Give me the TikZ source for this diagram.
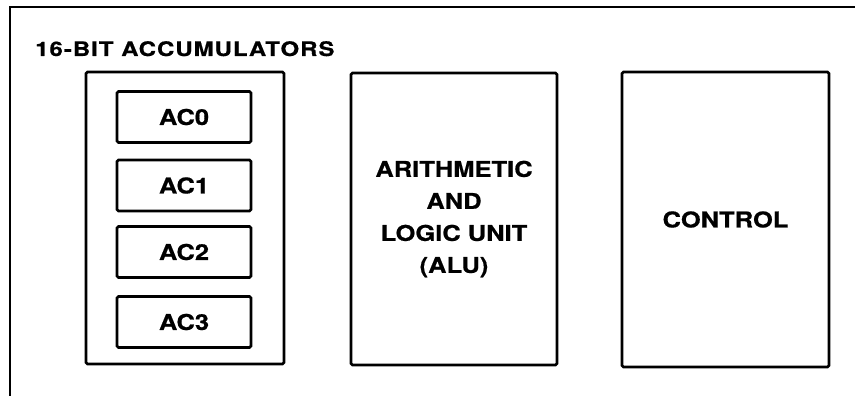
\documentclass[tikz,border=0pt]{standalone}
\usepackage{fontspec}
\setmainfont{TeX Gyre Heros}[FakeStretch=1.17,FakeBold=0.6]
\newfontfamily\titlefont{TeX Gyre Heros}[FakeStretch=1.2,LetterSpace=5,FakeBold=0.6]
\begin{document}
\begin{tikzpicture}[x=1pt,y=-1pt,
  frame/.style={line width=2pt},
  blk/.style={draw,line width=2.6pt,rounded corners=1.5pt,inner sep=0pt,
    font=\bfseries\fontsize{21.8}{32}\selectfont,align=center},
  reg/.style={blk,minimum width=134pt,minimum height=51pt},
  lbl/.style={font=\titlefont\bfseries\fontsize{20}{24}\selectfont,inner sep=0pt}]
\useasboundingbox (0,0) rectangle (855,396);
\fill[white] (0,0) rectangle (855,396);
\coordinate (ftr) at (856,7);
\coordinate (ftl) at (10,7);
\coordinate (fbl) at (10,397);
\draw[frame] (ftr) -- (ftl) -- (fbl);
\node[lbl,anchor=base west] (title) at (35,56) {16-BIT ACCUMULATORS};
\node[blk,minimum width=198pt,minimum height=292pt] (acc) at (185,218) {};
\node[reg] (ac0) at (184,117) {AC0};
\node[reg] (ac1) at (184,185.5) {AC1};
\node[reg] (ac2) at (184,252) {AC2};
\node[reg] (ac3) at (184,322) {AC3};
\node[blk,minimum width=206pt,minimum height=292pt] (alu) at (454,219) {ARITHMETIC\\AND\\LOGIC UNIT\\(ALU)};
\node[blk,minimum width=207pt,minimum height=295pt] (ctl) at (725.5,219.5) {CONTROL};
\end{tikzpicture}
\end{document}
